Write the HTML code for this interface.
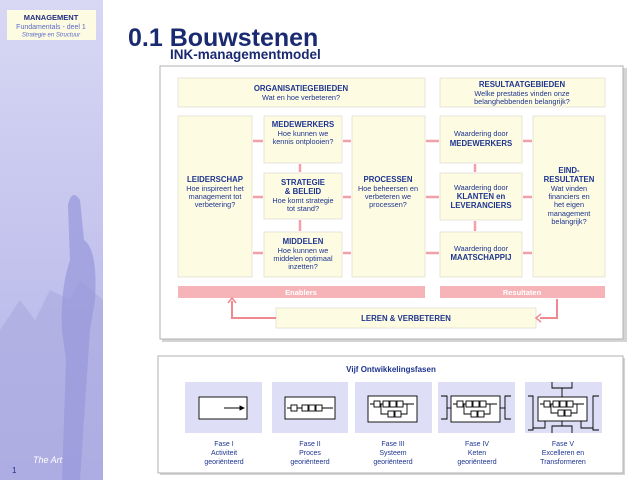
<!DOCTYPE html>
<html><head><meta charset="utf-8"><style>
html,body{margin:0;padding:0;width:640px;height:480px;overflow:hidden;background:#fff}
svg{display:block}
text{font-family:"Liberation Sans",sans-serif}
</style></head><body>
<svg width="640" height="480" viewBox="0 0 640 480" xmlns="http://www.w3.org/2000/svg">
<defs>
<linearGradient id="side" x1="0" y1="0" x2="0" y2="1">
<stop offset="0" stop-color="#d8d8f4"/><stop offset="0.5" stop-color="#c4c4ee"/><stop offset="1" stop-color="#b4b4e8"/>
</linearGradient>
<marker id="ah" markerWidth="6" markerHeight="6" refX="5" refY="3" orient="auto"><path d="M0,0 L6,3 L0,6 z" fill="#000"/></marker>
</defs>
<rect x="0" y="0" width="103" height="480" fill="url(#side)"/>
<path d="M0,330 L20,300 L35,320 L50,290 L70,300 L80,280 L103,300 L103,480 L0,480z" fill="#a8a8e0" opacity="0.6"/>
<path d="M68,205 Q72,188 80,200 L84,240 Q98,250 95,300 L90,330 L80,480 L62,480 L66,360 L62,330 Q60,290 70,260 Z" fill="#9a9adc" opacity="0.75"/>
<rect x="7" y="10" width="89" height="30" fill="#fdfbe2"/>
<text x="51" y="20" font-size="7.5" font-weight="bold" fill="#1f2f80" text-anchor="middle">MANAGEMENT</text>
<text x="51" y="29" font-size="7" fill="#5a6ac8" text-anchor="middle">Fundamentals - deel 1</text>
<text x="51" y="36.5" font-size="6" font-style="italic" fill="#5a6ac8" text-anchor="middle">Strategie en Structuur</text>
<text x="12" y="473" font-size="8" fill="#1f2f80">1</text>
<text x="33" y="463" font-size="9" font-style="italic" fill="#fff" font-family="Liberation Serif">The Art</text>
<text x="128" y="46" font-size="25" font-weight="bold" fill="#1a2a70">0.1 Bouwstenen</text>
<text x="170" y="59" font-size="13.5" font-weight="bold" fill="#1a2a70">INK-managementmodel</text>
<rect x="162" y="68" width="465" height="274" fill="#d4d4d4"/>
<rect x="160" y="66" width="463" height="273" fill="#fff" stroke="#b0b0b0" stroke-width="1"/>
<g fill="#fdfbe2" stroke="#d8d6c8" stroke-width="0.6">
<rect x="178" y="78" width="247" height="29"/>
<rect x="440" y="78" width="165" height="29"/>
<rect x="178" y="116" width="74" height="161"/>
<rect x="264" y="116" width="78" height="47"/>
<rect x="264" y="173" width="78" height="46"/>
<rect x="264" y="232" width="78" height="45"/>
<rect x="352" y="116" width="73" height="161"/>
<rect x="440" y="116" width="82" height="47"/>
<rect x="440" y="173" width="82" height="47"/>
<rect x="440" y="232" width="82" height="45"/>
<rect x="533" y="116" width="72" height="161"/>
<rect x="276" y="308" width="260" height="20"/>
</g>
<g stroke="#f4a0a8" stroke-width="2.5">
<line x1="253" y1="141" x2="263" y2="141"/><line x1="253" y1="197" x2="263" y2="197"/><line x1="253" y1="253" x2="263" y2="253"/>
<line x1="343" y1="141" x2="351" y2="141"/><line x1="343" y1="197" x2="351" y2="197"/><line x1="343" y1="253" x2="351" y2="253"/>
<line x1="426" y1="141" x2="439" y2="141"/><line x1="426" y1="197" x2="439" y2="197"/><line x1="426" y1="253" x2="439" y2="253"/>
<line x1="523" y1="141" x2="532" y2="141"/><line x1="523" y1="197" x2="532" y2="197"/><line x1="523" y1="253" x2="532" y2="253"/>
<line x1="300" y1="164" x2="300" y2="172"/><line x1="300" y1="220" x2="300" y2="231"/>
<line x1="475" y1="164" x2="475" y2="172"/><line x1="475" y1="221" x2="475" y2="231"/>
</g>
<rect x="178" y="286" width="247" height="12" fill="#f6b4b8"/>
<rect x="440" y="286" width="165" height="12" fill="#f6b4b8"/>
<text x="301" y="295" font-size="7.5" font-weight="bold" fill="#fff" text-anchor="middle">Enablers</text>
<text x="522" y="295" font-size="7.5" font-weight="bold" fill="#fff" text-anchor="middle">Resultaten</text>
<g stroke="#f08890" stroke-width="2" fill="none">
<polyline points="276,318 232,318 232,301"/>
<polyline points="557,299 557,318 540,318"/>
</g>
<path d="M228,303 L232,298 L236,303" stroke="#f08890" stroke-width="1.5" fill="none"/>
<path d="M541,314 L536,318 L541,322" stroke="#f08890" stroke-width="1.5" fill="none"/>
<g font-size="7.3" fill="#1e3590" text-anchor="middle">
<text x="301" y="91" font-weight="bold" font-size="7.8">ORGANISATIEGEBIEDEN</text>
<text x="301" y="100">Wat en hoe verbeteren?</text>
<text x="522" y="87" font-weight="bold" font-size="7.8">RESULTAATGEBIEDEN</text>
<text x="522" y="96">Welke prestaties vinden onze</text>
<text x="522" y="104">belanghebbenden belangrijk?</text>
<text x="215" y="182" font-weight="bold" font-size="7.8">LEIDERSCHAP</text>
<text x="215" y="191">Hoe inspireert het</text><text x="215" y="199">management tot</text><text x="215" y="207">verbetering?</text>
<text x="303" y="127" font-weight="bold" font-size="7.8">MEDEWERKERS</text>
<text x="303" y="136">Hoe kunnen we</text><text x="303" y="144">kennis ontplooien?</text>
<text x="303" y="185" font-weight="bold" font-size="7.8">STRATEGIE</text>
<text x="303" y="194" font-weight="bold" font-size="7.8">&amp; BELEID</text>
<text x="303" y="203">Hoe komt strategie</text><text x="303" y="211">tot stand?</text>
<text x="303" y="244" font-weight="bold" font-size="7.8">MIDDELEN</text>
<text x="303" y="253">Hoe kunnen we</text><text x="303" y="261">middelen optimaal</text><text x="303" y="269">inzetten?</text>
<text x="388" y="182" font-weight="bold" font-size="7.8">PROCESSEN</text>
<text x="388" y="191">Hoe beheersen en</text><text x="388" y="199">verbeteren we</text><text x="388" y="207">processen?</text>
<text x="481" y="136">Waardering door</text>
<text x="481" y="146" font-weight="bold" font-size="7.8">MEDEWERKERS</text>
<text x="481" y="190">Waardering door</text>
<text x="481" y="199" font-weight="bold" font-size="7.8">KLANTEN en</text>
<text x="481" y="208" font-weight="bold" font-size="7.8">LEVERANCIERS</text>
<text x="481" y="251">Waardering door</text>
<text x="481" y="260" font-weight="bold" font-size="7.8">MAATSCHAPPIJ</text>
<text x="569" y="173" font-weight="bold" font-size="7.8">EIND-</text>
<text x="569" y="182" font-weight="bold" font-size="7.8">RESULTATEN</text>
<text x="569" y="191">Wat vinden</text><text x="569" y="199">financiers en</text><text x="569" y="207">het eigen</text><text x="569" y="216">management</text><text x="569" y="224">belangrijk?</text>
<text x="406" y="321" font-weight="bold" font-size="7.8">LEREN &amp; VERBETEREN</text>
</g>
<rect x="160" y="358" width="465" height="117" fill="#d4d4d4"/>
<rect x="158" y="356" width="465" height="117" fill="#fff" stroke="#b0b0b0"/>
<text x="391" y="372" font-size="8" font-weight="bold" fill="#1e3590" text-anchor="middle">Vijf Ontwikkelingsfasen</text>
<g fill="#dedef6">
<rect x="185" y="382" width="77" height="51"/><rect x="272" y="382" width="76" height="51"/>
<rect x="355" y="382" width="77" height="51"/><rect x="438" y="382" width="77" height="51"/>
<rect x="525" y="382" width="77" height="51"/>
</g>
<g stroke="#000" stroke-width="0.9" fill="none">
<rect x="199" y="397" width="48" height="22" fill="#fff"/>
<line x1="224" y1="408" x2="244" y2="408" marker-end="url(#ah)"/>
<rect x="285" y="397" width="50" height="22" fill="#fff"/>
<line x1="287" y1="408" x2="333" y2="408"/>
<rect x="291" y="405" width="6" height="6" fill="#fff"/><rect x="302" y="405" width="6" height="6" fill="#fff"/><rect x="309" y="405" width="6" height="6" fill="#fff"/><rect x="316" y="405" width="6" height="6" fill="#fff"/>
<rect x="368" y="396" width="49" height="26" fill="#fff"/>
<line x1="370" y1="404" x2="414" y2="404"/>
<polyline points="381,404 381,414 407,414 407,404"/>
<rect x="374" y="401" width="6" height="6" fill="#fff"/><rect x="383" y="401" width="6" height="6" fill="#fff"/><rect x="390" y="401" width="6" height="6" fill="#fff"/><rect x="397" y="401" width="6" height="6" fill="#fff"/>
<rect x="388" y="411" width="6" height="6" fill="#fff"/><rect x="395" y="411" width="6" height="6" fill="#fff"/>
<rect x="451" y="396" width="49" height="26" fill="#fff"/>
<line x1="453" y1="404" x2="497" y2="404"/>
<polyline points="464,404 464,414 490,414 490,404"/>
<rect x="457" y="401" width="6" height="6" fill="#fff"/><rect x="466" y="401" width="6" height="6" fill="#fff"/><rect x="473" y="401" width="6" height="6" fill="#fff"/><rect x="480" y="401" width="6" height="6" fill="#fff"/>
<rect x="471" y="411" width="6" height="6" fill="#fff"/><rect x="478" y="411" width="6" height="6" fill="#fff"/>
<polyline points="441,396 447,396 447,419 441,419"/><polyline points="511,396 505,396 505,419 511,419"/>
<line x1="447" y1="408" x2="451" y2="408"/><line x1="500" y1="408" x2="505" y2="408"/>
<rect x="538" y="397" width="49" height="24" fill="#fff"/>
<line x1="540" y1="404" x2="584" y2="404"/>
<polyline points="551,404 551,413 577,413 577,404"/>
<rect x="544" y="401" width="6" height="6" fill="#fff"/><rect x="553" y="401" width="6" height="6" fill="#fff"/><rect x="560" y="401" width="6" height="6" fill="#fff"/><rect x="567" y="401" width="6" height="6" fill="#fff"/>
<rect x="558" y="410" width="6" height="6" fill="#fff"/><rect x="565" y="410" width="6" height="6" fill="#fff"/>
<polyline points="552,382 552,388 572,388 572,382"/><line x1="562" y1="388" x2="562" y2="397"/>
<polyline points="552,433 552,426 572,426 572,433"/><line x1="562" y1="421" x2="562" y2="426"/>
<polyline points="528,396 533,396 533,430 528,430"/><polyline points="599,396 593,396 593,430 599,430"/>
<polyline points="533,428 545,428 545,421"/><polyline points="593,428 581,428 581,421"/>
</g>
<g font-size="7" fill="#1e3590" text-anchor="middle">
<text x="224" y="446">Fase I</text><text x="224" y="455">Activiteit</text><text x="224" y="464">georiënteerd</text>
<text x="310" y="446">Fase II</text><text x="310" y="455">Proces</text><text x="310" y="464">georiënteerd</text>
<text x="393" y="446">Fase III</text><text x="393" y="455">Systeem</text><text x="393" y="464">georiënteerd</text>
<text x="477" y="446">Fase IV</text><text x="477" y="455">Keten</text><text x="477" y="464">georiënteerd</text>
<text x="563" y="446">Fase V</text><text x="563" y="455">Excelleren en</text><text x="563" y="464">Transformeren</text>
</g>
</svg>
</body></html>
